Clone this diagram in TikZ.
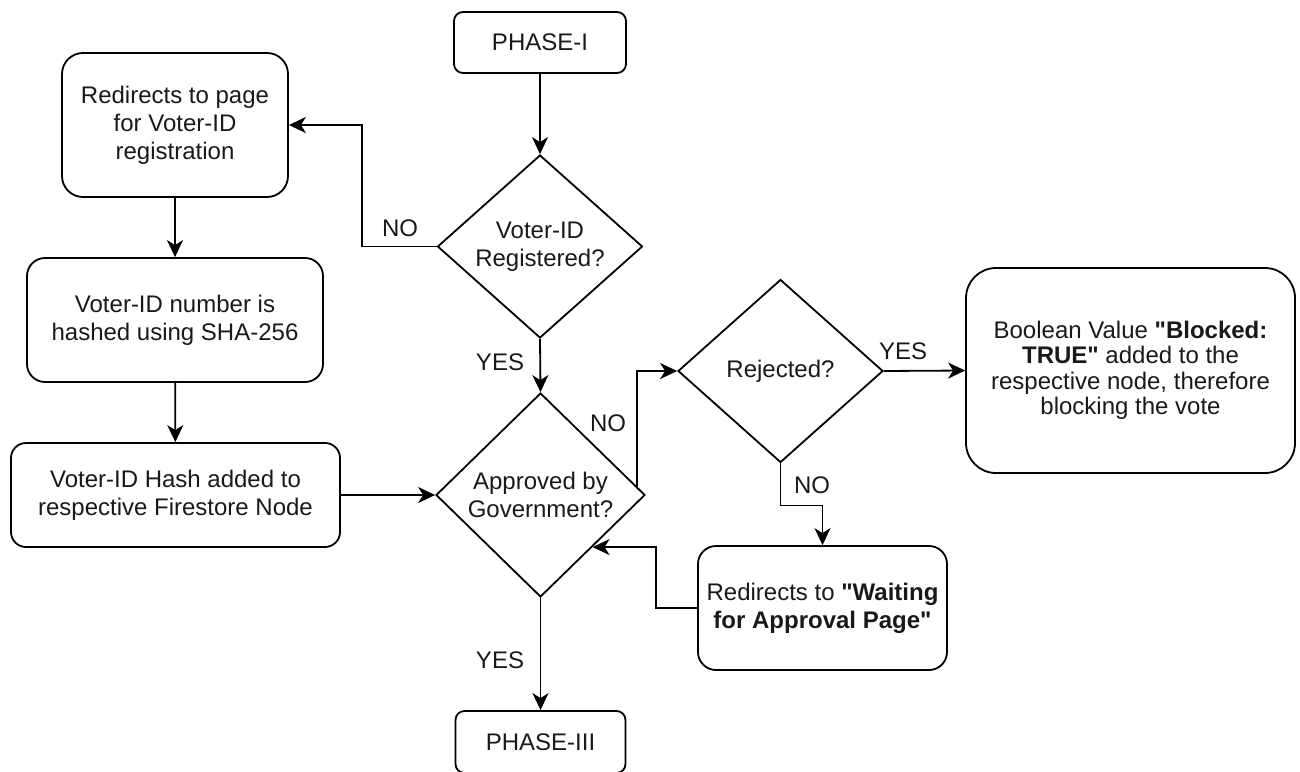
\documentclass[tikz,border=0pt]{standalone}
\usepackage{fontspec}
\setmainfont{Liberation Sans}
\usetikzlibrary{shapes.geometric,arrows.meta}
\newcommand{\dq}{\textquotedbl}
\begin{document}
\begin{tikzpicture}[x=1pt,y=-1pt,
  every node/.style={font=\fontsize{24}{28}\selectfont, text=black!90},
  stepbox/.style={draw, line width=1.8pt, rectangle, align=center, inner sep=0pt},
  decision/.style={draw, line width=1.8pt, diamond, align=center, inner sep=0pt,
    minimum width=205pt, minimum height=183pt},
  flow/.style={draw, line width=1.8pt,
    -{Stealth[length=17pt,width=16pt,inset=5pt]}},
  lbl/.style={inner sep=0pt}
]
\useasboundingbox (0,0) rectangle (1300,771);

% process boxes
\node[stepbox, rounded corners=9pt, minimum width=172pt, minimum height=61pt]
  (p1) at (540,42.5) {PHASE-I};
\node[stepbox, rounded corners=21pt, minimum width=226pt, minimum height=144pt]
  (reg) at (175,125) {Redirects to page\\for Voter-ID\\registration};
\node[stepbox, rounded corners=18pt, minimum width=296pt, minimum height=124pt]
  (hashing) at (175,320) {Voter-ID number is\\hashed using SHA-256};
\node[stepbox, rounded corners=15pt, minimum width=329pt, minimum height=104pt]
  (store) at (175.5,495) {Voter-ID Hash added to\\respective Firestore Node};
\node[stepbox, rounded corners=30pt, minimum width=329pt, minimum height=205pt,
  font=\fontsize{24}{25.5}\selectfont]
  (blocked) at (1130.5,370.5)
  {Boolean Value \textbf{\dq Blocked:}\\\textbf{TRUE\dq} added to the\\respective node, therefore\\blocking the vote};
\node[stepbox, rounded corners=18pt, minimum width=249pt, minimum height=124pt]
  (wait) at (822.5,608) {Redirects to \textbf{\dq Waiting}\\\textbf{for Approval Page\dq}};
\node[stepbox, rounded corners=9pt, minimum width=170pt, minimum height=62pt]
  (p3) at (540.5,742) {PHASE-III};

% decisions
\node[decision] (registered) at (540,246.5) {Voter-ID\\Registered?};
\node[decision, minimum width=209pt, minimum height=204pt]
  (approved) at (540.5,495) {Approved by\\Government?};
\node[decision] (rejected) at (780.5,371) {Rejected?};

% connectors
\draw[flow] (p1) -- (registered);
\draw[flow] (registered.west) -- ++(-75,0) |- (reg.east);
\draw[flow] (reg) -- (hashing);
\draw[flow] (hashing) -- (store);
\draw[flow] (store.east) -- (approved.west);
\draw[flow] (registered.south) -- (approved.north);
\draw[flow] (approved.5.3) |- (rejected.west);
\draw[flow] (rejected.east) -- (blocked.west);
\draw[flow] (rejected.south) -- ++(0,42) -| (wait.north);
\draw[flow] (wait.west) -- ++(-41,0) |- (approved.-45);
\draw[flow] (approved.south) -- (p3.north);

% branch labels
\node[lbl] (noreg)  at (400,228) {NO};
\node[lbl] (yesreg) at (500,362) {YES};
\node[lbl] (noapp)  at (608,423) {NO};
\node[lbl] (yesrej) at (903,351) {YES};
\node[lbl] (norej)  at (812,485) {NO};
\node[lbl] (yesapp) at (500,660) {YES};
\end{tikzpicture}
\end{document}
